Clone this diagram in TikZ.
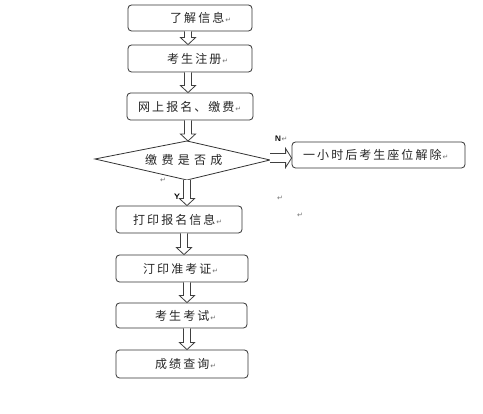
\documentclass[tikz,border=0pt]{standalone}
\usepackage{fontspec}
\usetikzlibrary{calc}
\newfontfamily\cjk[LetterSpace=17]{Noto Sans CJK SC}
\newfontfamily\cjkwide[LetterSpace=36]{Noto Sans CJK SC}
\newfontfamily\symfont{DejaVu Sans}
\newcommand\pmark{{\symfont\fontsize{7}{7}\selectfont\color{black!55}\kern1pt ↵}}
\newcommand\blockdown[2]{\draw[barrow] let \p1=#1, \p2=#2 in
  (\x1-3.5pt,\y1) -- (\x1-3.5pt,\y2+7pt) -- (\x1-7.5pt,\y2+7pt) -- (\x1,\y2)
  -- (\x1+7.5pt,\y2+7pt) -- (\x1+3.5pt,\y2+7pt) -- (\x1+3.5pt,\y1);}
\newcommand\blockright[2]{\draw[barrow] let \p1=#1, \p2=#2 in
  (\x1,\y1+4.5pt) -- (\x2-6pt,\y1+4.5pt) -- (\x2-6pt,\y1+9.5pt) -- (\x2,\y1)
  -- (\x2-6pt,\y1-9.5pt) -- (\x2-6pt,\y1-4.5pt) -- (\x1,\y1-4.5pt);}
\tikzset{
  box/.style={draw=black!80, line width=0.8pt, rounded corners=3.5pt, inner sep=0pt},
  txt/.style={anchor=west, inner sep=0pt, font=\cjk\fontsize{12}{12}\selectfont, text=black!85},
  widetxt/.style={txt, font=\cjkwide\fontsize{12}{12}\selectfont},
  barrow/.style={draw=black!75, line width=0.8pt, fill=white, line join=miter},
  yn/.style={inner sep=0pt, font=\sffamily\bfseries\fontsize{8}{8}\selectfont},
  stray/.style={inner sep=0pt, font=\symfont\fontsize{7}{7}\selectfont, text=black!55}
}
\begin{document}
\begin{tikzpicture}[x=1pt,y=-1pt]
\useasboundingbox[fill=white] (0,0) rectangle (483,414);
% boxes
\node[box, minimum width=124pt, minimum height=26pt] (b1) at (190,18) {};
\node[box, minimum width=124pt, minimum height=27pt] (b2) at (190,58.5) {};
\node[box, minimum width=126pt, minimum height=27pt] (b3) at (190,106.5) {};
\node[box, minimum width=173pt, minimum height=26pt] (r) at (378.5,155) {};
\node[box, minimum width=126pt, minimum height=27pt] (b6) at (179,219.5) {};
\node[box, minimum width=132pt, minimum height=27pt] (b7) at (182,268.5) {};
\node[box, minimum width=131pt, minimum height=25pt] (b8) at (181.5,315.5) {};
\node[box, minimum width=132pt, minimum height=28pt] (b9) at (182,364) {};
% diamond
\coordinate (dl) at (95,159);
\coordinate (dt) at (187,141);
\coordinate (dr) at (270,160);
\coordinate (db) at (187,180);
\draw[draw=black!80, line width=0.8pt, line join=miter] (dl) -- (dt) -- (dr) -- (db) -- cycle;
% texts
\node[txt] (t1) at (170,18) {了解信息\pmark};
\node[txt] (t2) at (167,58.5) {考生注册\pmark};
\node[txt] (t3) at (138,106.5) {网上报名、缴费\pmark};
\node[widetxt] (td) at (145,160) {缴费是否成};
\node[txt] (tr) at (303,155) {一小时后考生座位解除\pmark};
\node[txt] (t6) at (133,219.5) {打印报名信息\pmark};
\node[txt] (t7) at (143,268.5) {汀印准考证\pmark};
\node[txt] (t8) at (155,316) {考生考试\pmark};
\node[txt] (t9) at (155,364) {成绩查询\pmark};
% arrows
\blockdown{([xshift=-2pt]b1.south)}{(b2.north)}
\blockdown{([xshift=-2pt]b2.south)}{(b3.north)}
\blockdown{([xshift=-2pt]b3.south)}{(dt)}
\blockdown{(db)}{(b6.north)}
\blockdown{([xshift=5pt]b6.south)}{(b7.north)}
\blockdown{([xshift=5pt]b7.south)}{(b8.north)}
\blockdown{([xshift=5.5pt]b8.south)}{(b9.north)}
\coordinate (nstart) at (270,158);
\coordinate (nend) at (r.west |- nstart);
\blockright{(nstart)}{(nend)}
% labels
\node[yn] (ln) at (278,139) {N};
\node[stray] (lnm) at (284.5,139) {↵};
\node[yn] (ly) at (177,197) {Y};
% stray paragraph marks
\node[stray] (s1) at (163,180) {↵};
\node[stray] (s2) at (280,198) {↵};
\node[stray] (s3) at (300,215) {↵};
\end{tikzpicture}
\end{document}
